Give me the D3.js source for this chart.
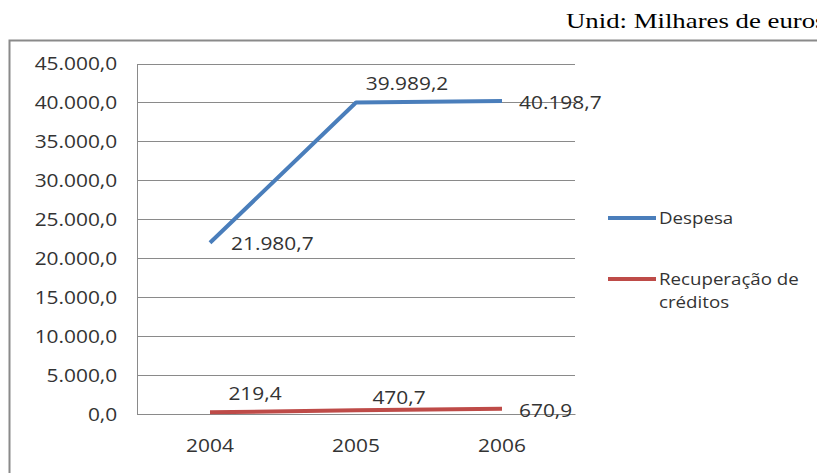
<!DOCTYPE html>
<html>
<head>
<meta charset="utf-8">
<script src="https://cdn.jsdelivr.net/npm/d3@7"></script>
<style>
    body { margin: 0; background: #fff; }
    svg { display: block; }
</style>
</head>
<body>
<div id="chart"></div>
<script>
// 数据
var years = ["2004", "2005", "2006"];
var despesa = [21980.7, 39989.2, 40198.7];
var recuperacao = [219.4, 470.7, 670.9];
var seriesNames = ["Despesa", "Recuperação de créditos"];
var yTicks = [0, 5000, 10000, 15000, 20000, 25000, 30000, 35000, 40000, 45000];
var unitText = "Unid: Milhares de euros";

// 标签相对点的位置 (布局, 不是数据)
var labelPos = [
    [{dx: 21, dy: 1, anchor: "start"}, {dx: 51, dy: -19, anchor: "middle"}, {dx: 17, dy: 1, anchor: "start"}],
    [{dx: 45, dy: -19, anchor: "middle"}, {dx: 43, dy: -13, anchor: "middle"}, {dx: 17, dy: 2, anchor: "start"}]
];

var W = 817, H = 473;
var plot = {left: 137, right: 575, top: 63.5, bottom: 414};
var colors = ["#4a7ebb", "#be4b48"];
var font = "'Open Sans', sans-serif";
var stretch = 1.1;   //原图文字横向拉伸

var pt = d3.formatLocale({decimal: ",", thousands: ".", grouping: [3], currency: ["", " €"]});
var fmt = pt.format(",.1f");

var svg = d3.select("#chart").append("svg")
    .attr("width", W)
    .attr("height", H);

//单位
svg.append("text")
    .attr("transform", "translate(566,28) scale(1.34,1)")
    .attr("font-family", "'Liberation Serif', 'Times New Roman', serif")
    .attr("font-size", 20)
    .attr("fill", "#000")
    .text(unitText);

//外框
svg.append("rect")
    .attr("x", 9.5).attr("y", 40.5)
    .attr("width", 900).attr("height", 600)
    .attr("fill", "none")
    .attr("stroke", "#8a8a8a")
    .attr("stroke-width", 2);

var x = d3.scaleBand().domain(years).range([plot.left, plot.right]).padding(0);
var y = d3.scaleLinear().domain([0, 45000]).range([plot.bottom, plot.top]);
function cx(d) { return x(d) + x.bandwidth() / 2; }

//y轴 + 网格线
var yAxis = svg.append("g")
    .attr("transform", "translate(" + plot.left + ",0)")
    .call(d3.axisLeft(y).tickValues(yTicks).tickFormat(fmt)
        .tickSize(-(plot.right - plot.left)).tickSizeOuter(0).tickPadding(18));
yAxis.select(".domain").attr("stroke", "#8a8a8a");
yAxis.selectAll(".tick line").attr("stroke", "#8a8a8a").attr("shape-rendering", "crispEdges");
yAxis.selectAll(".tick text")
    .attr("font-family", font)
    .attr("font-size", 19)
    .attr("fill", "#333")
    .attr("transform", "scale(" + stretch + ",1)");

//x轴
var xAxis = svg.append("g")
    .attr("transform", "translate(0," + plot.bottom + ")")
    .call(d3.axisBottom(x).tickSize(0).tickPadding(25));
xAxis.select(".domain").attr("stroke", "#8a8a8a");
xAxis.selectAll(".tick text")
    .attr("font-family", font)
    .attr("font-size", 19)
    .attr("fill", "#333")
    .attr("transform", "scale(" + stretch + ",1)");

//折线
var allSeries = [despesa, recuperacao];
var line = d3.line()
    .x(function (d, i) { return cx(years[i]); })
    .y(function (d) { return y(d); });

svg.selectAll("path.series").data(allSeries)
    .enter().append("path")
    .attr("class", "series")
    .attr("d", line)
    .attr("fill", "none")
    .attr("stroke", function (d, i) { return colors[i]; })
    .attr("stroke-width", 4)
    .attr("stroke-linejoin", "round");

//数据标签
allSeries.forEach(function (s, si) {
    svg.selectAll("text.lbl" + si).data(s)
        .enter().append("text")
        .attr("class", "lbl" + si)
        .attr("transform", function (d, i) {
            var p = labelPos[si][i];
            return "translate(" + (cx(years[i]) + p.dx) + "," + (y(d) + p.dy) + ") scale(" + stretch + ",1)";
        })
        .attr("dy", "0.35em")
        .attr("text-anchor", function (d, i) { return labelPos[si][i].anchor; })
        .attr("font-family", font)
        .attr("font-size", 19)
        .attr("fill", "#333")
        .text(function (d) { return fmt(d); });
});

//图例
var legend = svg.append("g");
var legendY = [218, 279];
seriesNames.forEach(function (name, i) {
    legend.append("line")
        .attr("x1", 608).attr("x2", 656)
        .attr("y1", legendY[i]).attr("y2", legendY[i])
        .attr("stroke", colors[i])
        .attr("stroke-width", 4);
    var words = i == 1 ? ["Recuperação de", "créditos"] : [name];
    words.forEach(function (w, k) {
        legend.append("text")
            .attr("transform", "translate(659," + (legendY[i] + 6 + k * 23) + ") scale(" + stretch + ",1)")
            .attr("font-family", font)
            .attr("font-size", 17)
            .attr("fill", "#333")
            .text(w);
    });
});
</script>
</body>
</html>
